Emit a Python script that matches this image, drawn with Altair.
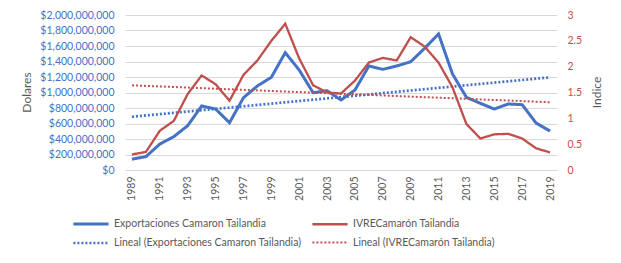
import altair as alt
import pandas as pd

years = [1989, 1990, 1991, 1992, 1993, 1994, 1995, 1996, 1997, 1998,
         1999, 2000, 2001, 2002, 2003, 2004, 2005, 2006, 2007, 2008,
         2009, 2010, 2011, 2012, 2013, 2014, 2015, 2016, 2017, 2018, 2019]

exportaciones = [140e6, 172e6, 335e6, 430e6, 572e6, 826e6, 787e6, 610e6, 933e6, 1084e6,
                 1196e6, 1514e6, 1290e6, 997e6, 1023e6, 903e6, 1032e6, 1342e6, 1299e6, 1342e6,
                 1397e6, 1570e6, 1755e6, 1239e6, 938e6, 860e6, 787e6, 852e6, 843e6, 606e6, 503e6]

ivre = [0.30, 0.35, 0.76, 0.95, 1.47, 1.83, 1.66, 1.34, 1.84, 2.12,
        2.50, 2.83, 2.16, 1.64, 1.50, 1.48, 1.73, 2.08, 2.17, 2.12,
        2.57, 2.39, 2.08, 1.60, 0.89, 0.61, 0.69, 0.70, 0.61, 0.42, 0.34]

EXP = "Exportaciones Camaron Tailandia"
IVR = "IVRECamarón Tailandia"
LEXP = "Lineal (Exportaciones Camaron Tailandia)"
LIVR = "Lineal (IVRECamarón Tailandia)"
# legend fills column by column
series_order = [EXP, LEXP, IVR, LIVR]

left_ticks = [0, 200e6, 400e6, 600e6, 800e6, 1000e6, 1200e6, 1400e6, 1600e6, 1800e6, 2000e6]
right_ticks = [0, 0.5, 1, 1.5, 2, 2.5, 3]
x_ticks = [1989, 1991, 1993, 1995, 1997, 1999, 2001, 2003, 2005, 2007,
           2009, 2011, 2013, 2015, 2017, 2019]

BLUE = "#4472C4"
RED = "#C0504D"
GRAY = "#595959"
FONT = "Lato"

df = pd.concat([
    pd.DataFrame({"year": years, "value": exportaciones, "series": EXP}),
    pd.DataFrame({"year": years, "value": ivre, "series": IVR}),
])

x_enc = alt.X("year:Q",
              scale=alt.Scale(domain=[1988.5, 2019.5], nice=False, zero=False),
              axis=alt.Axis(values=x_ticks, format="d", labelAngle=270, title=None,
                            grid=False, ticks=False, domain=True, domainColor="#D9D9D9",
                            labelColor=GRAY, labelFont=FONT, labelFontSize=10.5,
                            labelPadding=6))


def make_legend():
    # wide, flat line symbol so rows can sit close together
    return alt.Legend(title=None, orient="none", legendX=-41, legendY=202,
                      columns=2, symbolType="M-3.2,0H3.2", symbolSize=121,
                      labelFont=FONT, labelFontSize=10.5, labelColor=GRAY,
                      labelOffset=16, columnPadding=5, rowPadding=6,
                      labelLimit=300)


color_enc = alt.Color("series:N",
                      scale=alt.Scale(domain=series_order, range=[BLUE, BLUE, RED, RED]),
                      legend=make_legend())
dash_enc = alt.StrokeDash("series:N",
                          scale=alt.Scale(domain=series_order,
                                          range=[[1, 0], [2, 2], [1, 0], [2, 2]]),
                          legend=make_legend())
width_enc = alt.StrokeWidth("series:N",
                            scale=alt.Scale(domain=series_order, range=[3, 2, 3, 2]),
                            legend=make_legend())

y_left = alt.Y("value:Q",
               scale=alt.Scale(domain=[0, 2e9], nice=False),
               axis=alt.Axis(values=left_ticks, format="$,.0f", title="Dolares",
                             grid=True, gridColor="#D9D9D9", domain=False, ticks=False,
                             labelColor=BLUE, labelFont=FONT, labelFontSize=10.5,
                             labelPadding=11,
                             titleFont=FONT, titleFontSize=12, titleFontWeight="normal",
                             titleColor=GRAY, titleAngle=270, titleX=-99, titleY=77,
                             titleAlign="center", titleBaseline="middle"))

y_right = alt.Y("value:Q",
                scale=alt.Scale(domain=[0, 3], nice=False),
                axis=alt.Axis(values=right_ticks, format="~g", title="Indice", orient="right",
                              grid=False, domain=False, ticks=False,
                              labelColor=RED, labelFont=FONT, labelFontSize=10.5,
                              labelPadding=10,
                              titleFont=FONT, titleFontSize=12, titleFontWeight="normal",
                              titleColor=GRAY, titleAngle=270, titleX=39, titleY=77,
                              titleAlign="center", titleBaseline="middle"))

base = alt.Chart(df)

exp_line = base.transform_filter(alt.datum.series == EXP).mark_line().encode(
    x=x_enc, y=y_left, color=color_enc, strokeDash=dash_enc, strokeWidth=width_enc)
exp_trend = base.transform_filter(alt.datum.series == EXP).transform_regression(
    "year", "value").transform_calculate(series=f'"{LEXP}"').mark_line().encode(
    x=x_enc, y=y_left, color=color_enc, strokeDash=dash_enc, strokeWidth=width_enc)

ivr_line = base.transform_filter(alt.datum.series == IVR).mark_line().encode(
    x=x_enc, y=y_right, color=color_enc, strokeDash=dash_enc, strokeWidth=width_enc)
ivr_trend = base.transform_filter(alt.datum.series == IVR).transform_regression(
    "year", "value").transform_calculate(series=f'"{LIVR}"').mark_line().encode(
    x=x_enc, y=y_right, color=color_enc, strokeDash=dash_enc, strokeWidth=width_enc)

left = alt.layer(exp_trend, exp_line)
right = alt.layer(ivr_trend, ivr_line)

chart = alt.layer(left, right).resolve_scale(y="independent").properties(
    width=432, height=155,
    autosize=alt.AutoSizeParams(type="none"),
    padding={"left": 117, "top": 7, "right": 50, "bottom": 85},
    background="white",
).configure_view(stroke=None)

chart.save("out.html", embed_options={"renderer": "svg", "actions": False})
